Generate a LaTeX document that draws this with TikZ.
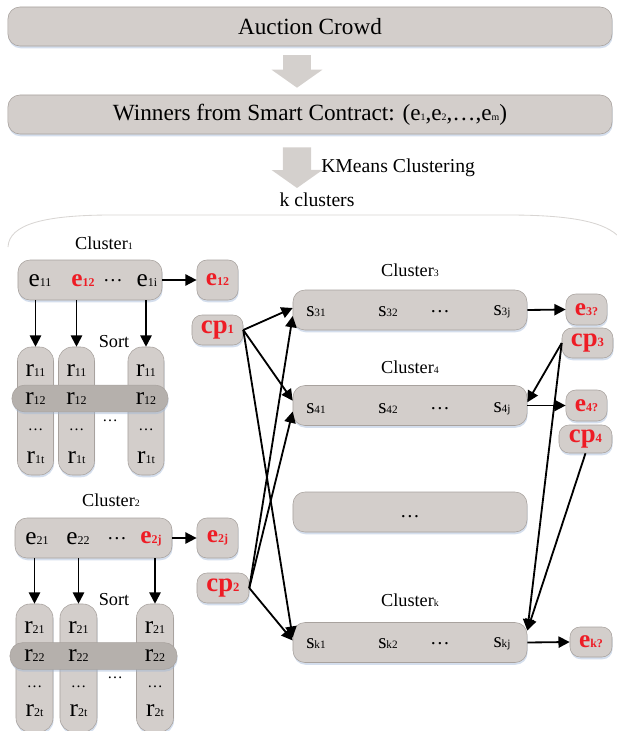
\documentclass[tikz,border=0pt]{standalone}
\usepackage{fontspec}
\setmainfont{Liberation Serif}
\usetikzlibrary{arrows.meta, shadows}

\definecolor{boxgray}{HTML}{D3CECB}
\definecolor{bandgray}{HTML}{B5B0AC}
\definecolor{linegray}{HTML}{A8A29E}
\definecolor{arrowgray}{HTML}{D4D0CD}
\definecolor{shadowblue}{HTML}{9FB6D6}
\definecolor{hired}{HTML}{EE1C25}

% element with small index, e.g. e_{11}
\newcommand{\elm}[2]{{\fontsize{18}{20}\selectfont #1}{\fontsize{8.5}{10}\selectfont #2}}
\newcommand{\rel}[2]{\textcolor{hired}{\bfseries\elm{#1}{#2}}}
\newcommand{\slm}[2]{{\fontsize{15}{17}\selectfont #1}{\fontsize{8}{10}\selectfont #2}}
\newcommand{\ssub}[1]{{\fontsize{7}{8}\selectfont #1}}
\newcommand{\clab}[1]{Cluster{\fontsize{7}{8}\selectfont #1}}

\begin{document}
\begin{tikzpicture}[
    x=0.025cm, y=-0.025cm,
    font=\fontsize{14}{16}\selectfont,
    box/.style={rectangle, rounded corners=0.3cm, draw=linegray, fill=boxgray, inner sep=0pt,
        drop shadow={shadow xshift=0.4pt, shadow yshift=-1.6pt, fill=shadowblue, opacity=0.45}},
    wide/.style={box, minimum width=15.1cm, minimum height=0.975cm, font=\fontsize{16.5}{18}\selectfont},
    grp/.style={box, minimum height=1cm},
    srow/.style={box, minimum width=5.85cm, minimum height=1cm},
    col/.style={box, minimum width=0.9cm, minimum height=3.2cm, rounded corners=0.35cm},
    band/.style={box, fill=bandgray, minimum height=0.67cm, rounded corners=0.32cm},
    res/.style={box, minimum width=1.03cm, rounded corners=0.25cm},
    txt/.style={inner sep=0pt},
    lab/.style={inner sep=0pt, font=\fontsize{13}{15}\selectfont},
    cdots/.style={inner sep=0pt, font=\fontsize{11}{12}\selectfont},
    arr/.style={-{Triangle[length=8pt,width=8pt]}, line width=1.3pt},
    blk/.style={draw=arrowgray, line width=0.7cm, -{Triangle[length=0.45cm,width=1.25cm]}}
]
\useasboundingbox (0,0) rectangle (617,731);
\clip (0,0) rectangle (617,731);

%% -- top of the flow --------------------------------------------------------
\node[wide] (crowd)   at (310,26.5)  {Auction Crowd};
\node[wide] (winners) at (310,114.5) {Winners from Smart Contract: (e\ssub{1},e\ssub{2},\dots,e\ssub{m})};
\coordinate (kmtip) at (297,188);
\node[txt, anchor=west] (kmeans) at (321,168) {KMeans Clustering};
\node[txt] (kclus) at (317,200) {k clusters};

\draw[blk] ([xshift=-0.325cm,yshift=-0.225cm]crowd.south) -- ([xshift=-0.325cm,yshift=0.175cm]winners.north);
\draw[blk] ([xshift=-0.325cm,yshift=-0.325cm]winners.south) -- (kmtip);

%% -- faint arc over the k clusters ----------------------------------------------
\draw[linegray!45, line width=0.6pt] (8,247) .. controls (9,224) and (45,215) .. (112,215)
    -- (508,215) .. controls (572,215) and (606,222) .. (620,238);

%% -- Cluster 1 ----------------------------------------------------------------
\node[lab] (lab1) at (104,243) {\clab{1}};
\node[grp, minimum width=3.6cm] (c1) at (90,280) {};
\node[txt] (e11) at (40,281)  {\elm{e}{11}};
\node[txt] (e12) at (83,281)  {\rel{e}{12}};
\node[txt] (e1d) at (113,281) {\dots};
\node[txt] (e1i) at (147,281) {\elm{e}{1i}};
\node[res, minimum height=1cm] (out1) at (217.5,280) {\rel{e}{12}};
\node[res, minimum width=1.275cm, minimum height=0.75cm] (cp1) at (217.5,330)
    {\textcolor{hired}{\bfseries\fontsize{19}{20}\selectfont cp{\fontsize{9}{10}\selectfont 1}}};
\node[lab] (sort1) at (114,342) {Sort};

\node[col] (k11) at (35.5,411) {};
\node[col] (k12) at (76.5,411) {};
\node[col] (k13) at (146,411)  {};
\node[band, minimum width=3.9cm] (band1) at (90,398.5) {};
\node[txt] (t111) at (35.5,371) {\elm{r}{11}}; \node[txt] (t121) at (76.5,371) {\elm{r}{11}}; \node[txt] (t131) at (146,371) {\elm{r}{11}};
\node[txt] (t112) at (35.5,399) {\elm{r}{12}}; \node[txt] (t122) at (76.5,399) {\elm{r}{12}}; \node[txt] (t132) at (146,399) {\elm{r}{12}};
\node[cdots] (t113) at (35.5,430) {\dots};     \node[cdots] (t123) at (76.5,430) {\dots};     \node[cdots] (t133) at (146,430) {\dots};
\node[txt] (t114) at (35.5,458) {\elm{r}{1t}}; \node[txt] (t124) at (76.5,458) {\elm{r}{1t}}; \node[txt] (t134) at (146,458) {\elm{r}{1t}};
\node[cdots] (mid1) at (110,421) {\dots};

\draw[arr] (k11 |- c1.south) -- (k11.north);
\draw[arr] (k12 |- c1.south) -- (k12.north);
\draw[arr] (k13 |- c1.south) -- (k13.north);
\draw[arr] (c1.east) -- (out1.west);

%% -- Cluster 2 ----------------------------------------------------------------
\node[lab] (lab2) at (111,500) {\clab{2}};
\node[grp, minimum width=3.925cm] (c2) at (93.5,538) {};
\node[txt] (e21) at (37,539)  {\elm{e}{21}};
\node[txt] (e22) at (78,539)  {\elm{e}{22}};
\node[txt] (e2d) at (117,539) {\dots};
\node[txt] (e2j) at (151,539) {\rel{e}{2j}};
\node[res, minimum height=1cm] (out2) at (217.5,538) {\rel{e}{2j}};
\node[res, minimum width=1.3cm, minimum height=0.75cm] (cp2) at (223,588)
    {\textcolor{hired}{\bfseries\fontsize{19}{20}\selectfont cp{\fontsize{9}{10}\selectfont 2}}};
\node[lab] (sort2) at (114,600) {Sort};

\node[col, minimum width=0.925cm] (k21) at (34.5,668) {};
\node[col, minimum width=0.925cm] (k22) at (78.5,668) {};
\node[col, minimum width=0.925cm] (k23) at (155,668)  {};
\node[band, minimum width=4.175cm] (band2) at (93.5,656) {};
\node[txt] (t211) at (34.5,628) {\elm{r}{21}}; \node[txt] (t221) at (78.5,628) {\elm{r}{21}}; \node[txt] (t231) at (155,628) {\elm{r}{21}};
\node[txt] (t212) at (34.5,656) {\elm{r}{22}}; \node[txt] (t222) at (78.5,656) {\elm{r}{22}}; \node[txt] (t232) at (155,656) {\elm{r}{22}};
\node[cdots] (t213) at (34.5,687) {\dots};     \node[cdots] (t223) at (78.5,687) {\dots};     \node[cdots] (t233) at (155,687) {\dots};
\node[txt] (t214) at (34.5,711) {\elm{r}{2t}}; \node[txt] (t224) at (78.5,711) {\elm{r}{2t}}; \node[txt] (t234) at (155,711) {\elm{r}{2t}};
\node[cdots] (mid2) at (115,678) {\dots};

\draw[arr] (k21 |- c2.south) -- (k21.north);
\draw[arr] (k22 |- c2.south) -- (k22.north);
\draw[arr] (k23 |- c2.south) -- (k23.north);
\draw[arr] (c2.east) -- (out2.west);

%% -- Clusters 3, 4 ... k --------------------------------------------------------
\node[lab] (lab3) at (410,270) {\clab{3}};
\node[srow] (c3) at (410,310) {};
\node[txt] (s31) at (316,312) {\slm{s}{31}};
\node[txt] (s32) at (388,312) {\slm{s}{32}};
\node[txt] (s3d) at (440,312) {\dots};
\node[txt] (s3j) at (502,312) {\slm{s}{3j}};
\node[res, minimum height=0.775cm] (out3) at (586.5,309.5) {\rel{e}{3?}};
\node[res, minimum width=1.275cm, minimum height=0.75cm] (cp3) at (587.5,343)
    {\textcolor{hired}{\bfseries\fontsize{19}{20}\selectfont cp{\fontsize{9}{10}\selectfont 3}}};

\node[lab] (lab4) at (410,367) {\clab{4}};
\node[srow] (c4) at (410,405.5) {};
\node[txt] (s41) at (316,409) {\slm{s}{41}};
\node[txt] (s42) at (388,409) {\slm{s}{42}};
\node[txt] (s4d) at (440,409) {\dots};
\node[txt] (s4j) at (502,409) {\slm{s}{4j}};
\node[res, minimum height=0.775cm] (out4) at (586.5,405.5) {\rel{e}{4?}};
\node[res, minimum width=1.325cm, minimum height=0.7cm] (cp4) at (585.5,439)
    {\textcolor{hired}{\bfseries\fontsize{19}{20}\selectfont cp{\fontsize{9}{10}\selectfont 4}}};

\node[srow] (cdots) at (410,512) {};
\node[txt] (cdt) at (410,517) {\dots};

\node[lab] (labk) at (410,600) {\clab{k}};
\node[srow] (ck) at (410,642.5) {};
\node[txt] (sk1) at (316,644) {\slm{s}{k1}};
\node[txt] (sk2) at (388,644) {\slm{s}{k2}};
\node[txt] (skd) at (440,644) {\dots};
\node[txt] (skj) at (502,644) {\slm{s}{kj}};
\node[res, minimum width=1.05cm, minimum height=0.75cm] (outk) at (591,642) {\rel{e}{k?}};

\draw[arr] (c3.east) -- (out3.west);
\draw[arr] (c4.east) -- (out4.west);
\draw[arr] (ck.east) -- (outk.west);

%% -- cp links -------------------------------------------------------------------
\draw[arr] (cp1.east) -- ([yshift=0.05cm]c3.west);
\draw[arr] (cp1.east) -- ([yshift=0.12cm]c4.west);
\draw[arr] (cp1.east) -- ([yshift=0.12cm]ck.west);
\draw[arr] (cp2.east) -- ([yshift=-0.15cm]c3.west);
\draw[arr] (cp2.east) -- ([yshift=-0.15cm]c4.west);
\draw[arr] (cp2.east) -- ([yshift=0.05cm]ck.west);
\draw[arr] (cp3.west) -- ([yshift=0.08cm]c4.east);
\draw[arr] (cp3.west) -- ([yshift=0.3cm]ck.east);
\draw[arr] (cp4.south) -- ([yshift=0.3cm]ck.east);

\end{tikzpicture}
\end{document}
